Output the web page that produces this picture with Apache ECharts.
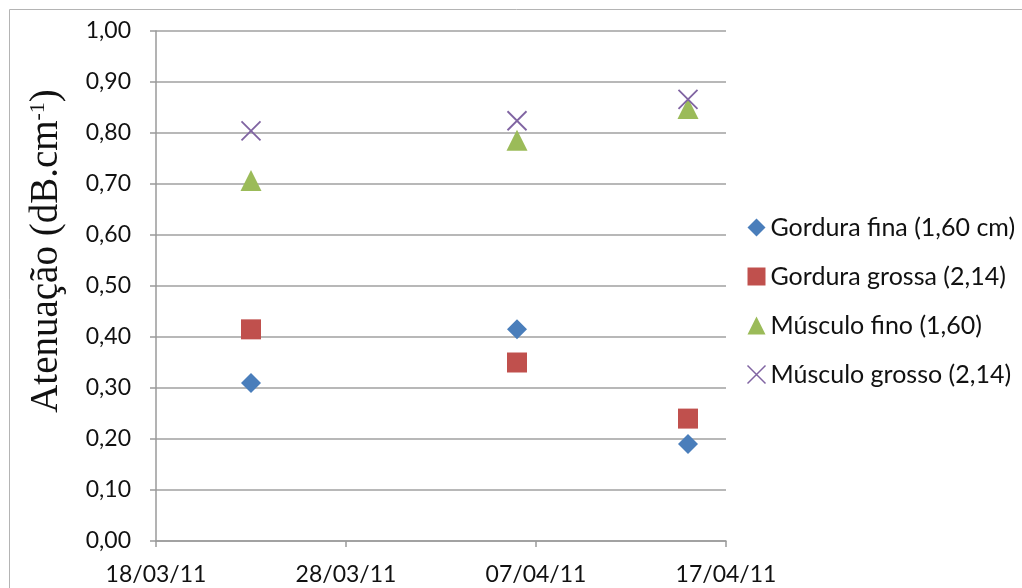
<!DOCTYPE html>
<html>
<head>
<meta charset="utf-8">
<script src="https://cdn.jsdelivr.net/npm/echarts@6/dist/echarts.min.js"></script>
<style>
  html, body { margin: 0; padding: 0; background: #fff; }
  #chart { width: 1022px; height: 588px; }
</style>
</head>
<body>
<div id="chart"></div>
<script>
// Measurement dates and attenuation values (dB/cm)
const dates = ['2011-03-23', '2011-04-06', '2011-04-15'];
const gorduraFina = [0.31, 0.415, 0.19];
const gorduraGrossa = [0.415, 0.35, 0.24];
const musculoFino = [0.707, 0.786, 0.848];
const musculoGrosso = [0.804, 0.824, 0.866];
const seriesNames = ['Gordura fina (1,60 cm)', 'Gordura grossa (2,14)', 'Músculo fino (1,60)', 'Músculo grosso (2,14)'];
const xStart = '2011-03-18';
const xEnd = '2011-04-17';
const xStepDays = 10;

const DAY = 86400000;
const t0 = Date.parse(xStart + 'T00:00:00Z');
const toDay = d => Math.round((Date.parse(d + 'T00:00:00Z') - t0) / DAY);
const pad = n => String(n).padStart(2, '0');
const dayLabel = v => {
  const d = new Date(t0 + v * DAY);
  return pad(d.getUTCDate()) + '/' + pad(d.getUTCMonth() + 1) + '/' + String(d.getUTCFullYear()).slice(2);
};
const pts = vals => vals.map((v, i) => [toDay(dates[i]), v]);

const font = 'Lato, "Open Sans", sans-serif';
const serif = '"Liberation Serif", "Times New Roman", serif';
const textColor = '#111';
const crossPath = 'path://M0,0L10,10M10,0L0,10';

const chart = echarts.init(document.getElementById('chart'), null, { renderer: 'canvas' });
chart.setOption({
  backgroundColor: '#fff',
  animation: false,
  graphic: [
    {
      type: 'rect',
      shape: { x: 9.5, y: 9.5, width: 1100, height: 700 },
      style: { fill: 'none', stroke: '#b4b4b4', lineWidth: 1 },
      silent: true
    },
    {
      // rotated y-axis title with superscript exponent
      type: 'text',
      x: 47,
      y: 251,
      rotation: Math.PI / 2,
      silent: true,
      style: {
        text: '{a|Atenuação (dB.cm}{s|-1}{a|)}',
        align: 'center',
        verticalAlign: 'middle',
        rich: {
          a: { fontFamily: serif, fontSize: 39, fill: textColor },
          s: { fontFamily: serif, fontSize: 22, fill: textColor, verticalAlign: 'top', padding: [0, 0, 16, 0] }
        }
      }
    }
  ],
  grid: { left: 156, right: 296, top: 31, bottom: 47 },
  legend: {
    orient: 'vertical',
    left: 740,
    top: 210,
    itemGap: 24,
    itemWidth: 18,
    itemHeight: 18,
    textStyle: { fontFamily: font, fontSize: 25, color: textColor },
    data: [
      { name: seriesNames[0], icon: 'diamond', itemStyle: { color: '#4a7ebb' } },
      { name: seriesNames[1], icon: 'rect', itemStyle: { color: '#c0504d' } },
      { name: seriesNames[2], icon: 'triangle', itemStyle: { color: '#9bbb59' } },
      { name: seriesNames[3], icon: crossPath, itemStyle: { color: 'none', borderColor: '#8064a2', borderWidth: 1.5 } }
    ]
  },
  xAxis: {
    type: 'value',
    min: 0,
    max: toDay(xEnd),
    interval: xStepDays,
    axisLine: { show: true, lineStyle: { color: '#9a9a9a', width: 1.5 } },
    axisTick: { show: true, length: 6, inside: false, lineStyle: { color: '#9a9a9a', width: 1.5 } },
    splitLine: { show: false },
    axisLabel: { margin: 22, formatter: dayLabel, fontFamily: font, fontSize: 23, color: textColor }
  },
  yAxis: {
    type: 'value',
    min: 0,
    max: 1,
    interval: 0.1,
    axisLine: { show: true, lineStyle: { color: '#9a9a9a', width: 1.5 } },
    axisTick: { show: true, length: 6, lineStyle: { color: '#9a9a9a', width: 1.5 } },
    splitLine: { show: true, lineStyle: { color: '#a0a0a0', width: 1.5 } },
    axisLabel: {
      margin: 25,
      fontFamily: font,
      fontSize: 23,
      color: textColor,
      formatter: v => v.toFixed(2).replace('.', ',')
    }
  },
  series: [
    { name: seriesNames[0], type: 'scatter', symbol: 'diamond', symbolSize: 20, itemStyle: { color: '#4a7ebb', opacity: 1 }, data: pts(gorduraFina) },
    { name: seriesNames[1], type: 'scatter', symbol: 'rect', symbolSize: 20, itemStyle: { color: '#c0504d', opacity: 1 }, data: pts(gorduraGrossa) },
    { name: seriesNames[2], type: 'scatter', symbol: 'triangle', symbolSize: 21, itemStyle: { color: '#9bbb59', opacity: 1 }, data: pts(musculoFino) },
    { name: seriesNames[3], type: 'scatter', symbol: crossPath, symbolSize: 19, itemStyle: { color: 'none', borderColor: '#8064a2', borderWidth: 1.8, opacity: 1 }, data: pts(musculoGrosso) }
  ]
});
</script>
</body>
</html>
